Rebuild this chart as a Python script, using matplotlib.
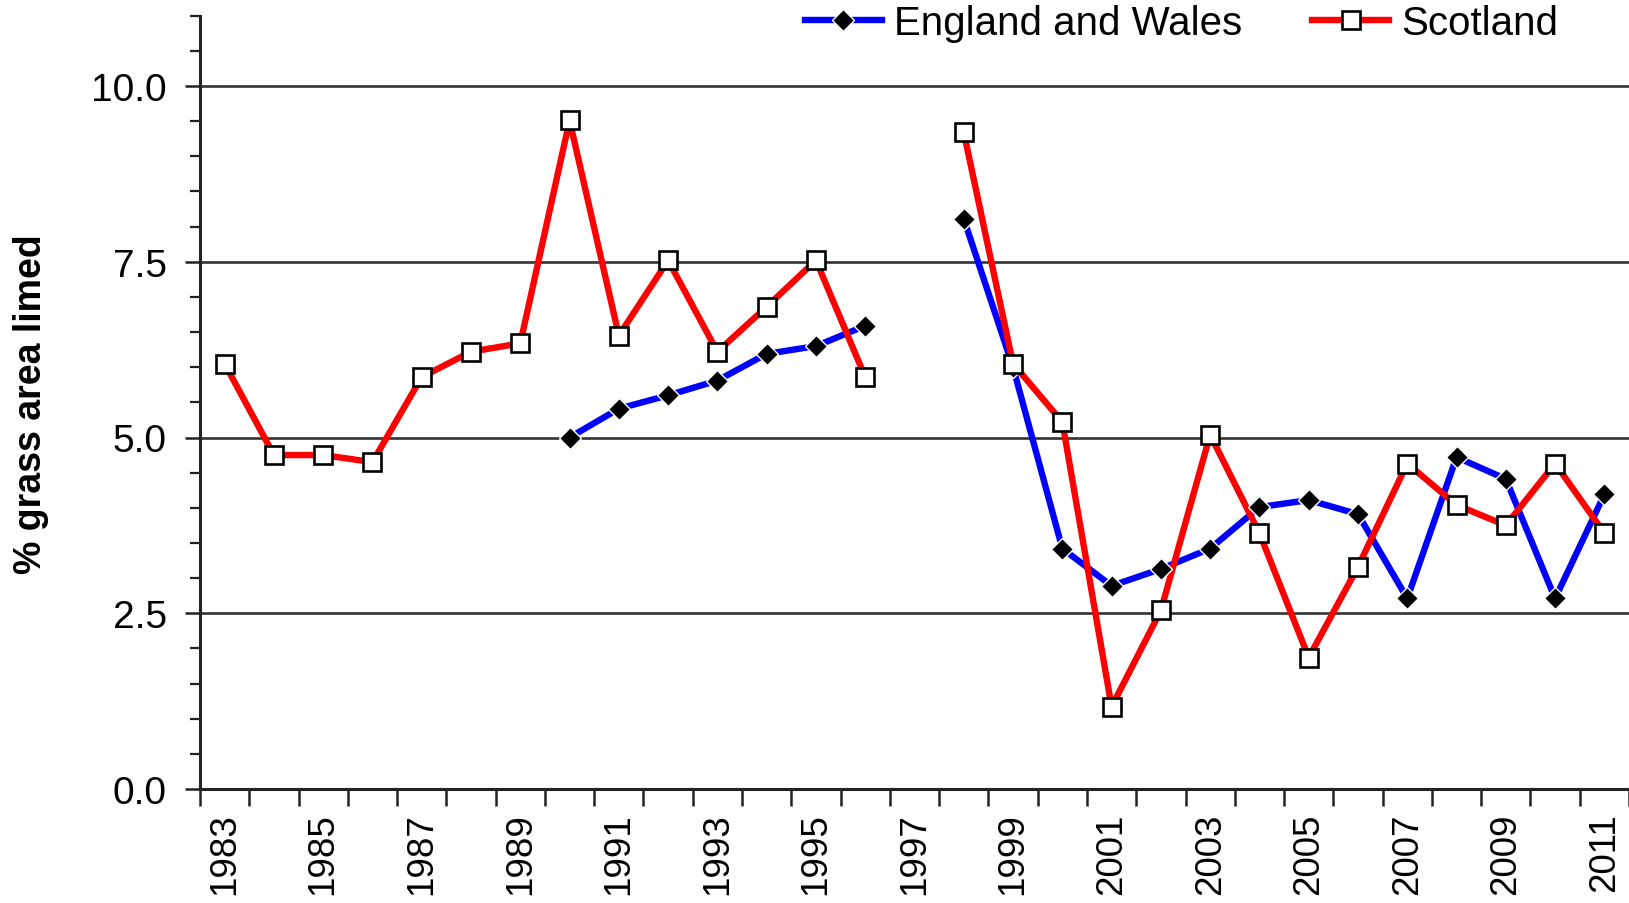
import numpy as np
import matplotlib
matplotlib.use("Agg")
import matplotlib.pyplot as plt
from matplotlib.ticker import MultipleLocator, FixedLocator
from matplotlib.lines import Line2D

years = list(range(1983, 2012))
nan = np.nan
england_wales = [nan, nan, nan, nan, nan, nan, nan, 5.00, 5.41, 5.60, 5.81, 6.19, 6.30, 6.59,
                 nan, 8.11, 6.00, 3.42, 2.89, 3.13, 3.42, 4.01, 4.11, 3.91, 2.71, 4.72, 4.41, 2.71, 4.19]
scotland = [6.05, 4.75, 4.75, 4.65, 5.86, 6.22, 6.34, 9.51, 6.45, 7.52, 6.22, 6.86, 7.52, 5.86,
            nan, 9.34, 6.05, 5.22, 1.17, 2.54, 5.04, 3.64, 1.87, 3.16, 4.63, 4.04, 3.75, 4.63, 3.64]
y_label = "% grass area limed"
series_names = ["England and Wales", "Scotland"]

plt.rcParams['font.family'] = ['Liberation Sans', 'DejaVu Sans']

fig = plt.figure(figsize=(16.29, 9.04), dpi=100)
ax = fig.add_axes([200/1629, 1 - 790/904, 1 - 200/1629, (790 - 16.7)/904])

x = np.arange(len(years))
ew = np.array(england_wales, dtype=float)
sc = np.array(scotland, dtype=float)

LW = 4.6
# lines first
ax.plot(x, ew, color='#0000FF', lw=LW, zorder=3, solid_capstyle='butt')
ax.plot(x, sc, color='#FF0000', lw=LW, zorder=3, solid_capstyle='butt')
# markers
ax.plot(x, ew, ls='none', marker='D', ms=11, mfc='black', mec='white', mew=1.0, zorder=4)
ax.plot(x, sc, ls='none', marker='s', ms=13, mfc='white', mec='black', mew=1.9, zorder=5)

ax.set_xlim(-0.5, len(years) - 0.5)
ax.set_ylim(0, 11)

# y axis ticks
ax.yaxis.set_major_locator(FixedLocator([0, 2.5, 5.0, 7.5, 10.0]))
ax.yaxis.set_minor_locator(MultipleLocator(0.5))
ax.set_yticklabels(["0.0", "2.5", "5.0", "7.5", "10.0"])
ax.tick_params(axis='y', which='major', length=11, width=1.8, direction='out', pad=13,
               labelsize=28, color='#222222')
ax.tick_params(axis='y', which='minor', length=7, width=1.6, direction='out', color='#222222')

# x axis ticks: labels at category centres (every other), tick marks at boundaries
ax.xaxis.set_major_locator(FixedLocator(x[::2]))
ax.set_xticklabels([str(y) for y in years[::2]], rotation=90)
ax.xaxis.set_minor_locator(FixedLocator(np.arange(-0.5, len(years), 1.0)))
ax.tick_params(axis='x', which='major', length=0, pad=17, labelsize=26.5)
ax.tick_params(axis='x', which='minor', length=12, width=1.8, direction='out', color='#222222')

for s in ['top', 'right']:
    ax.spines[s].set_visible(False)
for s in ['left', 'bottom']:
    ax.spines[s].set_linewidth(2.2)
    ax.spines[s].set_color('#222222')

# horizontal gridlines
ax.yaxis.grid(True, which='major', color='#333333', lw=1.9)
ax.set_axisbelow(True)

fig.text(31/1629, 1 - 404/904, y_label, rotation=90, fontsize=27, fontweight='bold',
         ha='center', va='center')

handles = [
    Line2D([], [], color='#0000FF', lw=LW, marker='D', ms=11, mfc='black', mec='white', mew=1.0),
    Line2D([], [], color='#FF0000', lw=LW, marker='s', ms=13, mfc='white', mec='black', mew=1.9),
]
fig.legend(handles, series_names, loc='center left', bbox_to_anchor=(805/1629, 1 - 24/904),
           ncol=2, frameon=False, fontsize=29, handlelength=1.9, handletextpad=0.3,
           columnspacing=1.75, borderpad=0, borderaxespad=0)

fig.savefig("out.png", dpi=100)
